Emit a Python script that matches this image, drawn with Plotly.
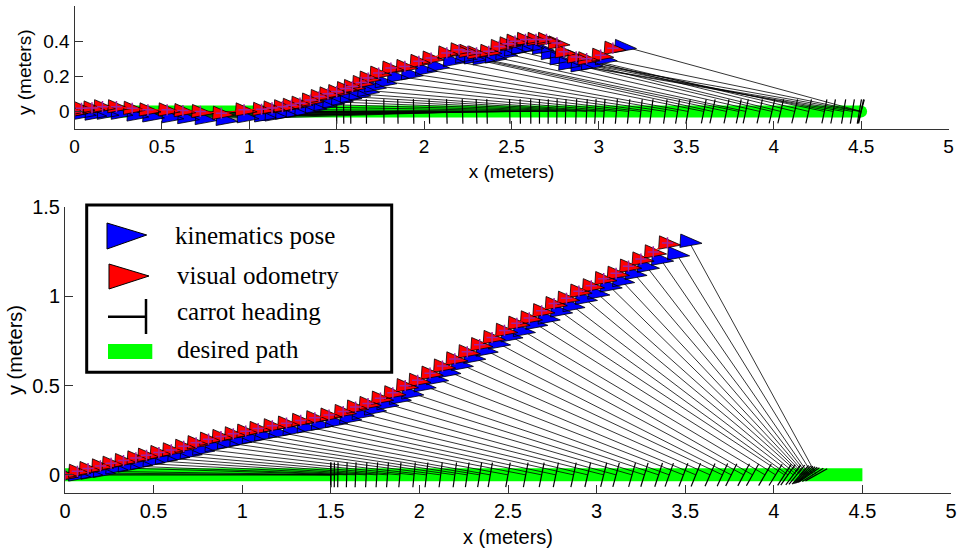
import math
import plotly.graph_objects as go

# ---------------- data ----------------
# top subplot
TOP_KIN_X = [0.00, 0.05, 0.11, 0.18, 0.26, 0.35, 0.44, 0.55, 0.64, 0.74,
             0.86, 0.98, 1.08, 1.14, 1.20, 1.26, 1.31, 1.37, 1.42, 1.47,
             1.52, 1.57, 1.62, 1.67, 1.71, 1.77, 1.84, 1.92, 2.00, 2.07,
             2.16, 2.23, 2.28, 2.33, 2.40, 2.46, 2.51, 2.55, 2.61, 2.67,
             2.72, 2.77, 2.82, 2.89, 2.95, 3.03, 3.14]
TOP_KIN_Y = [0.00, -0.01, -0.015, -0.01, -0.01, -0.02, -0.025, -0.03, -0.035, -0.04,
             -0.045, -0.03, -0.025, -0.02, -0.01, 0.00, 0.01, 0.025, 0.04, 0.055,
             0.07, 0.085, 0.10, 0.12, 0.145, 0.17, 0.20, 0.215, 0.24, 0.26,
             0.29, 0.31, 0.305, 0.30, 0.31, 0.33, 0.35, 0.36, 0.37, 0.36,
             0.33, 0.30, 0.27, 0.26, 0.27, 0.30, 0.37]
TOP_VO_X = [0.00, 0.04, 0.10, 0.16, 0.24, 0.33, 0.42, 0.53, 0.62, 0.72,
            0.84, 0.97, 1.07, 1.13, 1.19, 1.24, 1.29, 1.35, 1.40, 1.45,
            1.50, 1.55, 1.59, 1.64, 1.68, 1.74, 1.81, 1.89, 1.97, 2.04,
            2.13, 2.20, 2.25, 2.30, 2.37, 2.43, 2.48, 2.52, 2.58, 2.64,
            2.70, 2.76, 2.80, 2.87, 2.93, 3.01, 3.08]
TOP_VO_Y = [0.00, 0.018, 0.02, 0.027, 0.027, 0.018, 0.009, 0.009, 0.005, 0.00,
            -0.01, 0.009, 0.012, 0.02, 0.027, 0.035, 0.047, 0.065, 0.085, 0.10,
            0.113, 0.13, 0.142, 0.165, 0.19, 0.218, 0.247, 0.256, 0.285, 0.304,
            0.333, 0.351, 0.342, 0.333, 0.342, 0.37, 0.385, 0.40, 0.41, 0.41,
            0.41, 0.39, 0.34, 0.31, 0.30, 0.32, 0.36]
TOP_CARROT_X = [1.50, 1.54, 1.58, 1.67, 1.77, 1.85, 1.94, 2.03, 2.13, 2.22,
                2.30, 2.36, 2.49, 2.55, 2.61, 2.66, 2.71, 2.76, 2.81, 2.87,
                2.93, 2.98, 3.03, 3.10, 3.17, 3.24, 3.30, 3.38, 3.45, 3.51,
                3.60, 3.65, 3.73, 3.80, 3.84, 3.92, 3.99, 4.04, 4.12, 4.20,
                4.29, 4.34, 4.40, 4.45, 4.49, 4.50, 4.50]

# bottom subplot
BOT_KIN_X = [0.00, 0.07, 0.14, 0.21, 0.28, 0.35, 0.42, 0.49, 0.56, 0.63,
             0.70, 0.77, 0.84, 0.91, 0.98, 1.05, 1.12, 1.20, 1.28, 1.36,
             1.44, 1.52, 1.60, 1.67, 1.74, 1.81, 1.88, 1.95, 2.02, 2.09,
             2.16, 2.23, 2.30, 2.37, 2.44, 2.51, 2.58, 2.65, 2.72, 2.79,
             2.86, 2.93, 3.00, 3.07, 3.14, 3.21, 3.28, 3.36, 3.45, 3.52]
BOT_KIN_Y = [0.00, 0.00, 0.01, 0.02, 0.04, 0.05, 0.065, 0.08, 0.095, 0.11,
             0.125, 0.145, 0.165, 0.18, 0.195, 0.21, 0.225, 0.24, 0.255, 0.27,
             0.285, 0.30, 0.32, 0.345, 0.37, 0.40, 0.43, 0.46, 0.50, 0.54,
             0.58, 0.62, 0.66, 0.70, 0.74, 0.78, 0.81, 0.85, 0.88, 0.92,
             0.95, 0.99, 1.02, 1.06, 1.09, 1.13, 1.17, 1.21, 1.24, 1.31]
BOT_VO_X = [0.00, 0.07, 0.13, 0.20, 0.26, 0.33, 0.40, 0.46, 0.53, 0.60,
            0.67, 0.74, 0.81, 0.88, 0.95, 1.02, 1.09, 1.17, 1.25, 1.33,
            1.41, 1.49, 1.57, 1.64, 1.71, 1.78, 1.85, 1.92, 1.99, 2.06,
            2.13, 2.20, 2.27, 2.34, 2.41, 2.48, 2.55, 2.62, 2.69, 2.76,
            2.83, 2.90, 2.97, 3.04, 3.11, 3.18, 3.25, 3.32, 3.40]
BOT_VO_Y = [0.00, 0.02, 0.035, 0.05, 0.065, 0.08, 0.095, 0.11, 0.125, 0.14,
            0.16, 0.18, 0.20, 0.215, 0.23, 0.245, 0.26, 0.275, 0.29, 0.305,
            0.32, 0.335, 0.355, 0.38, 0.40, 0.43, 0.46, 0.50, 0.53, 0.57,
            0.61, 0.65, 0.69, 0.73, 0.77, 0.81, 0.85, 0.88, 0.92, 0.96,
            0.99, 1.03, 1.06, 1.10, 1.13, 1.17, 1.21, 1.25, 1.30]
BOT_CARROT_X = [1.50, 1.50, 1.52, 1.54, 1.59, 1.64, 1.70, 1.76, 1.82, 1.89,
                1.97, 2.04, 2.12, 2.20, 2.27, 2.34, 2.40, 2.50, 2.60, 2.69,
                2.77, 2.87, 2.95, 3.04, 3.11, 3.20, 3.27, 3.35, 3.41, 3.49,
                3.56, 3.64, 3.71, 3.76, 3.83, 3.88, 3.95, 4.01, 4.06, 4.08,
                4.11, 4.13, 4.15, 4.16, 4.17, 4.18, 4.19, 4.20, 4.22, 4.24]

# desired path (straight line along x axis)
PATH_X = [0.0, 4.5]
PATH_Y = [0.0, 0.0]

# axes ticks
X_TICKS = [0, 0.5, 1, 1.5, 2, 2.5, 3, 3.5, 4, 4.5, 5]
X_TICK_TEXT = ["0", "0.5", "1", "1.5", "2", "2.5", "3", "3.5", "4", "4.5", "5"]
TOP_Y_TICKS = [0, 0.2, 0.4]
TOP_Y_TICK_TEXT = ["0", "0.2", "0.4"]
BOT_Y_TICKS = [0, 0.5, 1, 1.5]
BOT_Y_TICK_TEXT = ["0", "0.5", "1", "1.5"]

LEGEND_LABELS = ["kinematics pose", "visual odometry", "carrot heading", "desired path"]
X_TITLE = "x (meters)"
Y_TITLE = "y (meters)"

# ---------------- styling ----------------
W, H = 961, 550
BLUE = "#0000ff"
RED = "#ff0000"
GREEN = "#00ff00"
AXIS_COLOR = "#333333"
SANS = "Liberation Sans, Arial, Helvetica, sans-serif"
SERIF = "Liberation Serif, Times New Roman, serif"

# triangle glyph (right-pointing pose marker), offsets in metres
TRI_DX = [-0.045, 0.075, -0.05]
TRI_DY = [0.04, -0.012, -0.035]
TICK_HALF = 0.07  # half length of the carrot tick


def tri_path(xs, ys):
    px, py = [], []
    for x, y in zip(xs, ys):
        for dx, dy in zip(TRI_DX, TRI_DY):
            px.append(x + dx)
            py.append(y + dy)
        px.append(x + TRI_DX[0])
        py.append(y + TRI_DY[0])
        px.append(None)
        py.append(None)
    return px, py


def carrot_geometry(kx, ky, cx, cy0):
    lx, ly, tx, ty = [], [], [], []
    for x, y, c in zip(kx, ky, cx):
        lx += [x, c, None]
        ly += [y, cy0, None]
        dx, dy = c - x, cy0 - y
        L = math.hypot(dx, dy) or 1.0
        nx, ny = -dy / L, dx / L
        tx += [c - TICK_HALF * nx, c + TICK_HALF * nx, None]
        ty += [cy0 - TICK_HALF * ny, cy0 + TICK_HALF * ny, None]
    return lx, ly, tx, ty


def px2p(x, y):
    return x / W, 1 - y / H


fig = go.Figure()


def add_panel(kx, ky, vx, vy, cx, xa, ya, path_w, round_cap):
    # desired path
    fig.add_trace(go.Scatter(
        x=PATH_X, y=PATH_Y, xaxis=xa, yaxis=ya,
        mode="lines+markers" if round_cap else "lines",
        line=dict(color=GREEN, width=path_w),
        marker=dict(color=GREEN, size=path_w, line=dict(width=0)),
        showlegend=False, hoverinfo="skip"))
    lx, ly, tx, ty = carrot_geometry(kx, ky, cx, PATH_Y[0])
    fig.add_trace(go.Scatter(
        x=lx, y=ly, xaxis=xa, yaxis=ya, mode="lines",
        line=dict(color="black", width=0.8),
        showlegend=False, hoverinfo="skip"))
    fig.add_trace(go.Scatter(
        x=tx, y=ty, xaxis=xa, yaxis=ya, mode="lines",
        line=dict(color="black", width=1.2),
        showlegend=False, hoverinfo="skip"))
    bx, by = tri_path(kx, ky)
    fig.add_trace(go.Scatter(
        x=bx, y=by, xaxis=xa, yaxis=ya, mode="lines", fill="toself",
        fillcolor=BLUE, line=dict(color="black", width=0.8),
        showlegend=False, hoverinfo="skip"))
    rx, ry = tri_path(vx, vy)
    fig.add_trace(go.Scatter(
        x=rx, y=ry, xaxis=xa, yaxis=ya, mode="lines", fill="toself",
        fillcolor=RED, line=dict(color="black", width=0.8),
        showlegend=False, hoverinfo="skip"))
    fig.add_trace(go.Scatter(
        x=vx, y=vy, xaxis=xa, yaxis=ya, mode="lines+markers",
        line=dict(color=RED, width=1),
        marker=dict(symbol="cross-thin", size=8,
                    line=dict(color="#a0209f", width=1.5)),
        showlegend=False, hoverinfo="skip"))


add_panel(TOP_KIN_X, TOP_KIN_Y, TOP_VO_X, TOP_VO_Y, TOP_CARROT_X, "x", "y", 12, True)
add_panel(BOT_KIN_X, BOT_KIN_Y, BOT_VO_X, BOT_VO_Y, BOT_CARROT_X, "x2", "y2", 13, False)

axis_common = dict(showline=True, linecolor=AXIS_COLOR, linewidth=1,
                   ticks="inside", ticklen=8, tickcolor=AXIS_COLOR, tickwidth=1,
                   showgrid=False, zeroline=False, automargin=False,
                   fixedrange=True)

fig.update_layout(
    width=W, height=H, template="none",
    paper_bgcolor="white", plot_bgcolor="white",
    margin=dict(l=0, r=0, t=0, b=0),
    showlegend=False,
    xaxis=dict(axis_common, domain=[74.5 / W, 948.5 / W], anchor="y",
               range=[0, 5], tickvals=X_TICKS, ticktext=X_TICK_TEXT,
               tickfont=dict(family=SANS, size=19, color="black"),
               title=dict(text=X_TITLE, font=dict(family=SANS, size=19, color="black"),
                          standoff=8)),
    yaxis=dict(axis_common, domain=[1 - 129 / H, 1 - 6 / H], anchor="x",
               range=[-0.1, 0.6], tickvals=TOP_Y_TICKS, ticktext=TOP_Y_TICK_TEXT,
               tickfont=dict(family=SANS, size=19, color="black")),
    xaxis2=dict(axis_common, domain=[65 / W, 951 / W], anchor="y2",
                range=[0, 5], tickvals=X_TICKS, ticktext=X_TICK_TEXT,
                tickfont=dict(family=SANS, size=20, color="black"),
                title=dict(text=X_TITLE, font=dict(family=SANS, size=20, color="black"),
                           standoff=9)),
    yaxis2=dict(axis_common, domain=[1 - 492.7 / H, 1 - 207.3 / H], anchor="x2",
                range=[-0.1, 1.5], tickvals=BOT_Y_TICKS, ticktext=BOT_Y_TICK_TEXT,
                tickfont=dict(family=SANS, size=20, color="black"),
                title=dict(text=Y_TITLE, font=dict(family=SANS, size=20, color="black"),
                           standoff=4)),
)

# ---------------- hand-drawn legend box (as in the original figure) ----------------
shapes = []
x0, y0 = px2p(86.7, 372.3)
x1, y1 = px2p(391.7, 205)
shapes.append(dict(type="rect", xref="paper", yref="paper", x0=x0, y0=y0, x1=x1, y1=y1,
                   line=dict(color="black", width=3), fillcolor="white", layer="above"))


def tri_shape(pts, color):
    parts = []
    for i, (px, py) in enumerate(pts):
        a, b = px2p(px, py)
        parts.append(("M" if i == 0 else "L") + f"{a:.5f},{b:.5f}")
    return dict(type="path", xref="paper", yref="paper", path=" ".join(parts) + " Z",
                fillcolor=color, line=dict(color="black", width=1), layer="above")


shapes.append(tri_shape([(107, 223), (107, 249), (146.7, 235)], BLUE))
shapes.append(tri_shape([(109, 264), (109, 289), (149, 276)], RED))
a0, b0 = px2p(108, 316.7)
a1, b1 = px2p(146, 316.7)
shapes.append(dict(type="line", xref="paper", yref="paper", x0=a0, y0=b0, x1=a1, y1=b1,
                   line=dict(color="black", width=2.5), layer="above"))
a0, b0 = px2p(146, 299)
a1, b1 = px2p(146, 334)
shapes.append(dict(type="line", xref="paper", yref="paper", x0=a0, y0=b0, x1=a1, y1=b1,
                   line=dict(color="black", width=2.5), layer="above"))
a0, b0 = px2p(108, 359)
a1, b1 = px2p(152.3, 344)
shapes.append(dict(type="rect", xref="paper", yref="paper", x0=a0, y0=b0, x1=a1, y1=b1,
                   line=dict(width=0), fillcolor=GREEN, layer="above"))

annotations = []
for label, (lx, ly) in zip(LEGEND_LABELS, [(173, 235), (175, 275), (175, 311.7), (175, 349)]):
    a, b = px2p(lx, ly)
    annotations.append(dict(text=label, xref="paper", yref="paper", x=a, y=b,
                            xanchor="left", yanchor="middle", showarrow=False,
                            font=dict(family=SERIF, size=25, color="black")))

# y title of the upper panel (placed explicitly)
a, b = px2p(25, 72)
annotations.append(dict(text=Y_TITLE, xref="paper", yref="paper", x=a, y=b,
                        xanchor="center", yanchor="middle", textangle=-90,
                        showarrow=False, font=dict(family=SANS, size=19, color="black")))

fig.update_layout(shapes=shapes, annotations=annotations)

fig.write_html(
    "out.html",
    config={"displayModeBar": False},
    post_script="document.body.style.margin='0';document.body.style.padding='0';"
                "document.body.style.overflow='hidden';",
)
